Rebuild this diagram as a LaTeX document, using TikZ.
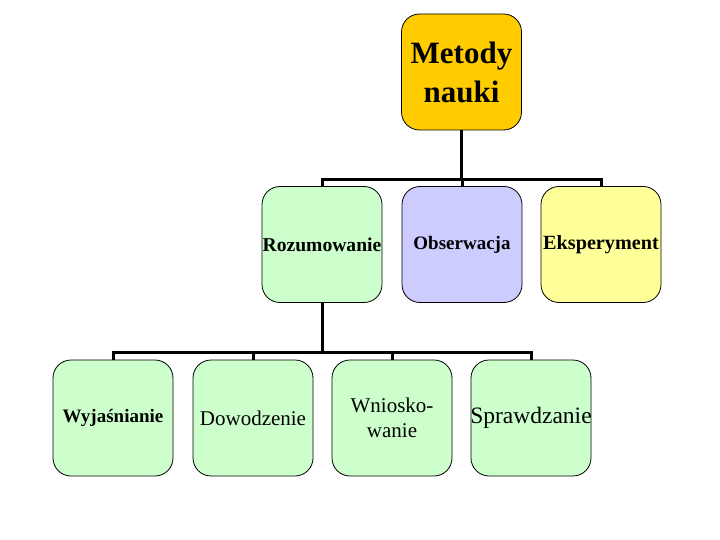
\documentclass[tikz,border=0pt]{standalone}
\usepackage{fontspec}
\setmainfont{Liberation Serif}
\definecolor{cgold}{HTML}{FFCC00}
\definecolor{cgreen}{HTML}{CCFFCC}
\definecolor{cblue}{HTML}{CCCCFF}
\definecolor{cyell}{HTML}{FFFF99}
\begin{document}
\begin{tikzpicture}[x=1pt,y=-1pt,
  box/.style={draw=black, line width=0.8pt, rounded corners=18pt, minimum width=120pt, minimum height=116pt, inner sep=0pt, align=center},
  conn/.style={draw=black, line width=3pt, line join=miter}]
\useasboundingbox (0,0) rectangle (720,540);
\node[box, fill=cgold, font=\bfseries\fontsize{31}{40}\selectfont] (metody) at (461.5,72) {\raisebox{-3pt}{Metody}\\\raisebox{-2pt}{nauki}};
\node[box, fill=cgreen, font=\bfseries\fontsize{19.6}{22}\selectfont] (rozum) at (322,244.5) {\raisebox{-1.5pt}{\makebox[60pt]{Rozumowanie}}};
\node[box, fill=cblue, font=\bfseries\fontsize{19}{22}\selectfont] (obs) at (462,244.5) {\makebox[60pt]{Obserwacja}};
\node[box, fill=cyell, font=\bfseries\fontsize{20.2}{22}\selectfont] (eksp) at (601,244.5) {\raisebox{-1.5pt}{\makebox[60pt]{Eksperyment}}};
\node[box, fill=cgreen, font=\bfseries\fontsize{19}{22}\selectfont] (wyj) at (113,418) {\makebox[60pt]{Wyjaśnianie}};
\node[box, fill=cgreen, font=\fontsize{21}{25}\selectfont] (dow) at (253,418) {\makebox[60pt]{Dowodzenie}};
\node[box, fill=cgreen, font=\fontsize{21}{25}\selectfont] (wn) at (392,418) {Wniosko-\\wanie};
\node[box, fill=cgreen, font=\fontsize{23.5}{27}\selectfont] (spr) at (531,418) {\makebox[60pt]{Sprawdzanie}};
\coordinate (j1) at (461.5,180);
\coordinate (j2) at (322,352);
\draw[conn] (metody.south) -- (j1);
\draw[conn] (rozum.north) |- (j1) -| (eksp.north);
\draw[conn] (obs.north) -- (obs.north |- j1);
\draw[conn] (rozum.south) -- (j2);
\draw[conn] (wyj.north) |- (j2) -| (spr.north);
\draw[conn] (dow.north) -- (dow.north |- j2);
\draw[conn] (wn.north) -- (wn.north |- j2);
\end{tikzpicture}
\end{document}
